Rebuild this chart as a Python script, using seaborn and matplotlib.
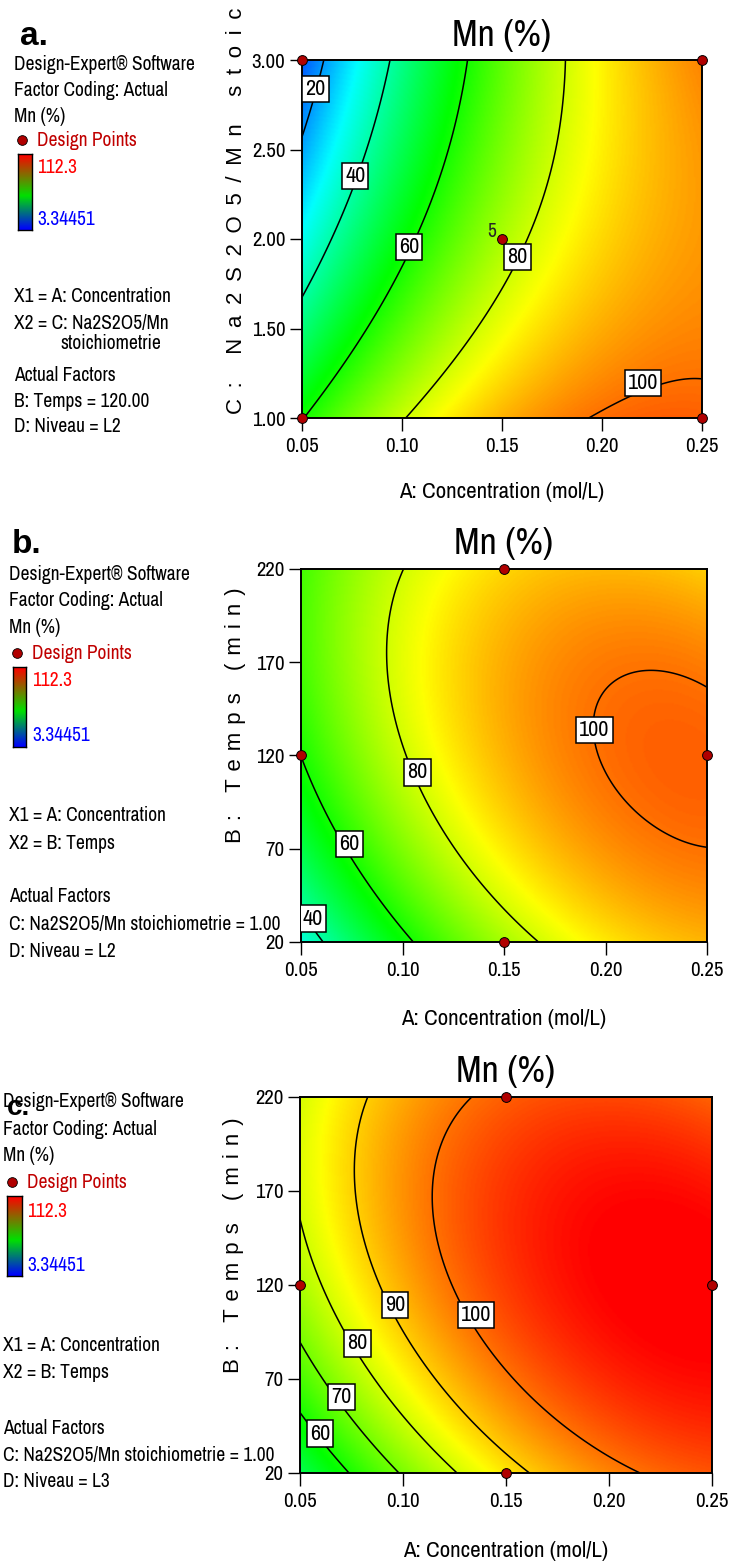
import numpy as np
import pandas as pd
import matplotlib
matplotlib.use("Agg")
import matplotlib.pyplot as plt
import seaborn as sns
from matplotlib.colors import LinearSegmentedColormap
from matplotlib.lines import Line2D

sns.set_theme(style="ticks")
NARROW = ['Archivo Narrow', 'DejaVu Sans']
plt.rcParams['font.family'] = NARROW

# ---------------- data ----------------
conc_ticks = [0.05, 0.10, 0.15, 0.20, 0.25]
ratio_ticks = [1.00, 1.50, 2.00, 2.50, 3.00]
temps_ticks = [20, 70, 120, 170, 220]

# quadratic response-surface coefficients in coded units
# order: [intercept, A, Y, A*Y, A^2, Y^2]
coef_a = [76.157, 31.946, -12.685, 10.679, -12.257, 4.237]   # Y = C (ratio)
coef_b = [92.84, 20.92, 6.90, -8.23, -11.86, -10.55]        # Y = B (temps), L2
coef_c = [105.70, 18.81, 7.50, -8.27, -11.06, -11.14]       # Y = B (temps), L3

levels_a = [20, 40, 60, 80, 100]
levels_b = [40, 60, 80, 100]
levels_c = [60, 70, 80, 90, 100]

design_a_conc = [0.05, 0.25, 0.05, 0.25, 0.15]
design_a_ratio = [3.00, 3.00, 1.00, 1.00, 2.00]
design_bc_conc = [0.15, 0.05, 0.25, 0.15]
design_bc_temps = [220, 120, 120, 20]

resp_min, resp_max = 3.34451, 112.3

# ---------------- style ----------------
W, H = 730, 1563
cmap = LinearSegmentedColormap.from_list(
    "de", ["#0000ff", "#00ffff", "#00ff00", "#ffff00", "#ff0000"])
legend_cmap = LinearSegmentedColormap.from_list(
    "leg", [(0.0, "#0000ff"), (0.45, "#00e000"), (1.0, "#ff0000")])
DARKRED = "#c00000"

fig = plt.figure(figsize=(W / 100, H / 100), dpi=100)


def fxy(x, y):
    return x / W, 1 - y / H


def ftext(x, y, s, **kw):
    fx, fy = fxy(x, y)
    kw.setdefault('fontsize', 14)
    kw.setdefault('color', 'black')
    kw.setdefault('va', 'baseline')
    kw.setdefault('ha', 'left')
    fig.text(fx, fy, s, **kw)


def surface(coef, A, Y, yc, ys):
    x = (A - 0.15) / 0.1
    y = (Y - yc) / ys
    return (coef[0] + coef[1] * x + coef[2] * y + coef[3] * x * y
            + coef[4] * x * x + coef[5] * y * y)


def panel(box, coef, yc, ys, ylim, yticks, yfmt, levels, label_pos,
          dconc, dy):
    l, t, r, b = box
    ax = fig.add_axes([l / W, 1 - b / H, (r - l) / W, (b - t) / H])
    ax.set_facecolor('none')
    A = np.linspace(0.05, 0.25, 300)
    Y = np.linspace(ylim[0], ylim[1], 300)
    AA, YY = np.meshgrid(A, Y)
    Z = surface(coef, AA, YY, yc, ys)
    ax.pcolormesh(AA, YY, Z, cmap=cmap, vmin=resp_min, vmax=resp_max,
                  shading='gouraud', rasterized=True)
    cs = ax.contour(AA, YY, Z, levels=levels, colors='black', linewidths=1.1)
    texts = ax.clabel(cs, levels, fmt='%d', manual=label_pos, inline=False,
                      fontsize=16)
    for tx, pos in zip(texts, label_pos):
        tx.set_position(pos)
        tx.set_rotation(0)
        tx.set_zorder(6)
        tx.set_bbox(dict(boxstyle='square,pad=0.14', fc='white',
                         ec='black', lw=1.1))
    df = pd.DataFrame({'A': dconc, 'Y': dy})
    sns.scatterplot(data=df, x='A', y='Y', ax=ax, s=50, color='#b00000',
                    edgecolor='black', linewidth=0.7, zorder=8, clip_on=False,
                    legend=False)
    ax.set_xlim(0.05, 0.25)
    ax.set_ylim(*ylim)
    ax.set_xticks(conc_ticks)
    ax.set_xticklabels([f"{v:.2f}" for v in conc_ticks], fontsize=15)
    ax.set_yticks(yticks)
    ax.set_yticklabels([yfmt.format(v) for v in yticks], fontsize=15)
    ax.tick_params(axis='both', direction='out', length=9, width=1.0,
                   color='black', labelcolor='black')
    ax.tick_params(axis='x', pad=5)
    ax.tick_params(axis='y', pad=3)
    ax.set_xlabel('')
    ax.set_ylabel('')
    for sp in ax.spines.values():
        sp.set_visible(True)
        sp.set_color('black')
        sp.set_linewidth(1.4)
    return ax


def side_block(lines, dot, bar, num_x, hi_y, lo_y, letter, letter_xy,
               letter_size):
    ftext(letter_xy[0], letter_xy[1], letter, fontsize=letter_size,
          fontweight='bold', family=['Liberation Sans', 'DejaVu Sans'])
    for (x, y, s) in lines:
        ftext(x, y, s)
    fig.add_artist(Line2D([dot[0] / W], [1 - dot[1] / H], marker='o',
                          markersize=7, markerfacecolor='#b00000',
                          markeredgecolor='black', markeredgewidth=0.6,
                          transform=fig.transFigure))
    ftext(num_x, dot[1] + 6, "Design Points", color=DARKRED)
    bl, bt, br, bb = bar
    bax = fig.add_axes([bl / W, 1 - bb / H, (br - bl) / W, (bb - bt) / H])
    bax.imshow(np.linspace(1, 0, 100)[:, None], aspect='auto',
               cmap=legend_cmap, vmin=0, vmax=1)
    bax.set_xticks([])
    bax.set_yticks([])
    for sp in bax.spines.values():
        sp.set_color('black')
        sp.set_linewidth(1.0)
    ftext(num_x, hi_y, "112.3", color='#ff0000')
    ftext(num_x, lo_y, "3.34451", color='#0000ff')


def spaced(s, gap):
    return gap.join(s)


SPACED = dict(family=['Liberation Sans', 'DejaVu Sans'], fontsize=16,
              rotation=90, ha='center', va='bottom')
XLAB = "A: Concentration (mol/L)"

# ---------------- panel a ----------------
ax_a = panel((302, 60, 702, 418), coef_a, 2.0, 1.0, (1.0, 3.0), ratio_ticks,
             "{:.2f}", levels_a,
             [(0.0567, 2.84), (0.0766, 2.354), (0.1036, 1.957),
              (0.1578, 1.898), (0.2206, 1.194)],
             design_a_conc, design_a_ratio)
ax_a.text(0.1448, 2.04, "5", fontsize=14, ha='center', va='center', zorder=9)
ftext(502, 36, "Mn (%)", fontsize=27, ha='center', va='center')
ftext(502, 492, XLAB, fontsize=16.5, ha='center', va='center')
ftext(237, 414, spaced("C: Na2S2O5/Mn stoichiometrie", " \u2009"), **SPACED)
side_block([(14, 70, "Design-Expert\u00ae Software"),
            (14, 96, "Factor Coding: Actual"),
            (14, 122, "Mn (%)"),
            (14, 302, "X1 = A: Concentration"),
            (14, 329, "X2 = C: Na2S2O5/Mn"),
            (60, 349, "stoichiometrie"),
            (14, 381, "Actual Factors"),
            (14, 407, "B: Temps = 120.00"),
            (14, 432, "D: Niveau = L2")],
           (22, 140), (18, 154, 32, 230), 37, 173, 225, "a.", (20, 45), 24)

# ---------------- panel b ----------------
ax_b = panel((301, 569, 707, 942), coef_b, 120, 100, (20, 220), temps_ticks,
             "{:d}", levels_b,
             [(0.0559, 32.6), (0.0738, 72.4), (0.1075, 110.9),
              (0.1945, 133.6)],
             design_bc_conc, design_bc_temps)
ftext(504, 543, "Mn (%)", fontsize=27, ha='center', va='center')
ftext(504, 1019, XLAB, fontsize=16.5, ha='center', va='center')
ftext(236, 843, spaced("B: Temps (min)", " \u200a"), **SPACED)
side_block([(9, 580, "Design-Expert\u00ae Software"),
            (9, 606, "Factor Coding: Actual"),
            (9, 633, "Mn (%)"),
            (9, 821, "X1 = A: Concentration"),
            (9, 849, "X2 = B: Temps"),
            (9, 902, "Actual Factors"),
            (9, 930, "C: Na2S2O5/Mn stoichiometrie = 1.00"),
            (9, 957, "D: Niveau = L2")],
           (17, 653), (13, 667, 26, 747), 32, 686, 741, "b.", (12, 553), 24)

# ---------------- panel c ----------------
ax_c = panel((300, 1097, 712, 1473), coef_c, 120, 100, (20, 220), temps_ticks,
             "{:d}", levels_c,
             [(0.0597, 41.0), (0.0702, 60.5), (0.078, 88.9), (0.0962, 109.4),
              (0.1355, 104.0)],
             design_bc_conc, design_bc_temps)
ftext(506, 1071, "Mn (%)", fontsize=27, ha='center', va='center')
ftext(506, 1551, XLAB, fontsize=16.5, ha='center', va='center')
ftext(234, 1373, spaced("B: Temps (min)", " \u200a"), **SPACED)
side_block([(3, 1107, "Design-Expert\u00ae Software"),
            (3, 1135, "Factor Coding: Actual"),
            (3, 1161, "Mn (%)"),
            (3, 1351, "X1 = A: Concentration"),
            (3, 1378, "X2 = B: Temps"),
            (3, 1434, "Actual Factors"),
            (3, 1461, "C: Na2S2O5/Mn stoichiometrie = 1.00"),
            (3, 1487, "D: Niveau = L3")],
           (12, 1182), (7, 1196, 22, 1276), 27, 1217, 1271, "c.", (7, 1115), 20)

fig.savefig("out.png", dpi=100)
